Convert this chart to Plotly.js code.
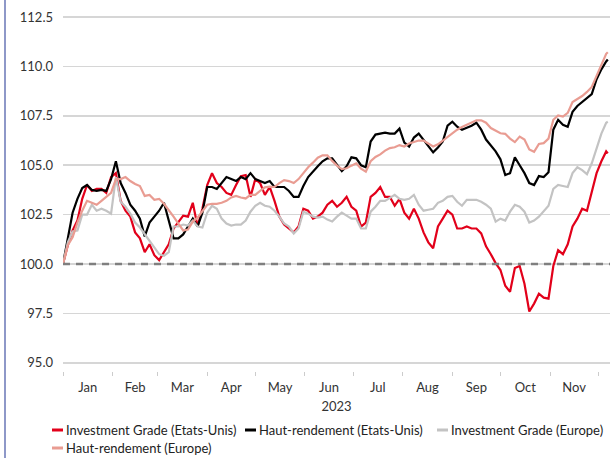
<!DOCTYPE html>
<html>
<head>
<meta charset="utf-8">
<script src="https://cdn.plot.ly/plotly-3.0.1.min.js"></script>
<style>
  html, body { margin: 0; padding: 0; background: #ffffff; }
  #wrap { position: relative; width: 610px; height: 458px; }
  #border { position: absolute; left: 4px; top: 0; width: 2px; height: 458px; background: #8e98c8; z-index: 2; }
  #chart { position: absolute; left: 0; top: 0; width: 610px; height: 458px; }
</style>
</head>
<body>
<div id="wrap"><div id="chart"></div><div id="border"></div></div>
<script>
const dates = [
 "2023-01-01","2023-01-04","2023-01-07","2023-01-10","2023-01-13","2023-01-16","2023-01-19","2023-01-22","2023-01-25","2023-01-28",
 "2023-01-31","2023-02-03","2023-02-06","2023-02-09","2023-02-12","2023-02-15","2023-02-18","2023-02-21","2023-02-24","2023-02-27",
 "2023-03-02","2023-03-05","2023-03-08","2023-03-11","2023-03-14","2023-03-17","2023-03-20","2023-03-23","2023-03-26","2023-03-29",
 "2023-04-01","2023-04-04","2023-04-07","2023-04-10","2023-04-13","2023-04-16","2023-04-19","2023-04-22","2023-04-25","2023-04-28",
 "2023-05-01","2023-05-04","2023-05-07","2023-05-10","2023-05-13","2023-05-16","2023-05-19","2023-05-22","2023-05-25","2023-05-28",
 "2023-05-31","2023-06-03","2023-06-06","2023-06-09","2023-06-12","2023-06-15","2023-06-18","2023-06-21","2023-06-24","2023-06-27",
 "2023-06-30","2023-07-03","2023-07-06","2023-07-09","2023-07-12","2023-07-15","2023-07-18","2023-07-21","2023-07-24","2023-07-27",
 "2023-07-30","2023-08-02","2023-08-05","2023-08-08","2023-08-11","2023-08-14","2023-08-17","2023-08-20","2023-08-23","2023-08-26",
 "2023-08-29","2023-09-01","2023-09-04","2023-09-07","2023-09-10","2023-09-13","2023-09-16","2023-09-19","2023-09-22","2023-09-25",
 "2023-09-28","2023-10-01","2023-10-04","2023-10-07","2023-10-10","2023-10-13","2023-10-16","2023-10-19","2023-10-22","2023-10-25",
 "2023-10-28","2023-10-31","2023-11-03","2023-11-06","2023-11-09","2023-11-12","2023-11-15","2023-11-18","2023-11-21","2023-11-24",
 "2023-11-27","2023-11-30","2023-12-03","2023-12-06","2023-12-07"
];

const igUS = [
 100.0,100.95,101.7,102.2,103.3,104.0,103.7,103.8,103.8,103.6,
 104.4,104.6,103.2,102.7,102.4,101.6,101.3,100.6,101.0,100.45,
 100.2,100.6,101.0,101.8,102.1,102.45,102.4,103.1,101.9,102.8,
 104.0,104.6,104.1,103.9,103.6,103.5,104.0,104.45,104.5,103.4,
 104.3,104.1,103.5,103.9,103.2,102.4,102.0,101.8,101.6,101.9,
 102.8,102.7,102.3,102.4,102.6,103.0,103.2,102.9,103.1,103.4,
 102.9,102.7,101.9,102.1,103.4,103.6,103.9,103.4,103.4,102.95,
 103.3,102.6,102.3,102.8,102.3,101.6,101.1,100.8,101.9,102.3,
 102.7,102.5,101.8,101.8,101.9,101.8,101.8,101.55,100.9,100.5,
 100.05,99.7,98.9,98.6,99.8,99.9,99.0,97.6,98.0,98.5,
 98.3,98.25,99.9,100.7,100.5,101.0,101.9,102.3,102.8,102.7,
 103.7,104.6,105.2,105.7,105.6
];

const hyUS = [
 100.0,101.3,102.6,103.3,103.85,104.0,103.75,103.7,103.75,103.7,
 104.3,105.2,104.1,103.6,103.0,102.7,102.3,101.4,102.1,102.4,
 102.7,103.1,102.2,101.3,101.3,101.5,101.9,102.3,101.9,102.6,
 103.9,103.9,103.8,104.1,104.4,104.3,104.2,104.4,104.3,104.6,
 104.3,104.2,104.1,104.2,103.9,103.9,103.9,103.7,103.4,103.4,
 103.95,104.4,104.7,104.95,105.2,105.35,105.35,105.05,104.7,104.95,
 105.4,105.35,105.0,104.9,106.2,106.55,106.6,106.65,106.6,106.6,
 106.85,106.15,105.95,106.4,106.6,106.3,105.95,105.65,105.9,106.2,
 107.0,107.2,106.95,106.8,106.9,107.0,107.15,106.8,106.3,106.0,
 105.7,105.3,104.5,104.6,105.4,105.0,104.6,104.1,104.0,104.45,
 104.4,104.65,106.8,107.3,107.05,106.95,107.7,108.0,108.2,108.4,
 108.6,109.35,109.85,110.25,110.35
];

const igEU = [
 100.0,101.1,101.65,101.7,102.5,102.5,103.0,102.7,102.8,102.7,
 102.55,104.4,103.15,102.9,102.55,102.1,101.85,101.5,101.2,100.8,
 100.5,100.42,100.6,101.9,101.9,102.0,101.95,102.2,101.9,101.85,
 102.6,102.95,102.8,102.3,102.05,101.95,102.0,102.0,102.2,102.65,
 102.95,103.1,102.95,102.9,102.7,102.4,102.05,101.9,101.55,101.8,
 102.65,102.55,102.4,102.35,102.4,102.25,102.15,102.4,102.6,102.45,
 102.3,102.3,101.8,101.8,102.65,102.9,103.2,103.2,103.35,103.5,
 103.3,103.25,103.3,103.5,103.0,102.7,102.75,102.8,103.1,103.2,
 103.4,103.45,103.15,102.95,103.25,103.25,103.25,103.15,103.0,102.8,
 102.15,102.3,102.2,102.65,103.0,102.9,102.65,102.1,102.2,102.4,
 102.65,102.95,103.8,104.0,103.95,103.9,104.6,104.9,104.75,104.55,
 105.1,105.9,106.6,107.15,107.2
];

const hyEU = [
 100.0,100.95,101.35,102.1,102.7,103.2,103.1,103.0,103.2,103.38,
 103.6,104.3,104.3,104.4,104.2,104.05,103.95,103.45,103.5,103.25,
 103.3,103.05,102.75,102.4,102.05,101.7,101.75,102.15,102.35,102.65,
 103.0,103.05,103.05,103.1,103.2,103.37,103.45,103.37,103.32,103.5,
 103.5,103.7,103.88,103.92,103.9,104.1,104.25,104.2,104.1,104.3,
 104.6,104.9,105.13,105.38,105.5,105.5,105.22,104.98,104.8,104.85,
 104.98,105.1,104.83,104.68,105.2,105.42,105.55,105.74,105.87,105.91,
 106.02,105.95,106.1,106.16,106.25,106.25,106.08,105.95,106.06,106.25,
 106.4,106.62,106.8,106.93,107.05,107.18,107.27,107.27,107.15,106.88,
 106.75,106.62,106.59,106.35,106.17,106.45,106.3,105.8,105.68,106.08,
 106.12,106.35,107.3,107.52,107.46,107.65,108.2,108.33,108.5,108.71,
 108.96,109.52,110.1,110.64,110.72
];

const seriesNames = [
 "Investment Grade (Etats-Unis)",
 "Haut-rendement (Etats-Unis)",
 "Investment Grade (Europe)",
 "Haut-rendement (Europe)"
];
const seriesValues = [igUS, hyUS, igEU, hyEU];
const seriesColors = ["#e2001a", "#000000", "#c3c3c3", "#e99c92"];
const baseline = 100;
const yearLabel = "2023";

const traces = seriesValues.map((vals, i) => ({
  type: "scatter",
  mode: "lines",
  x: dates,
  y: vals,
  name: seriesNames[i],
  line: { color: seriesColors[i], width: 2.2 },
  showlegend: false,
  hoverinfo: "x+y+name"
}));

// manual legend (positions in paper coords)
const W = 547, H = 371, L = 63;
function px2x(p) { return (p - L) / W; }
function py2y(p) { return (H - p) / H; }
const legendItems = [
  { sx: 52, tx: 65, y: 430 },
  { sx: 245, tx: 258, y: 430 },
  { sx: 437, tx: 450, y: 430 },
  { sx: 52, tx: 65, y: 448 }
];
const shapes = [{
  type: "line", xref: "paper", yref: "y",
  x0: 0, x1: 1, y0: baseline, y1: baseline,
  line: { color: "#7f7f7f", width: 2.5, dash: "7px,6px" }
}];
const annotations = [];
legendItems.forEach((it, i) => {
  shapes.push({
    type: "line", xref: "paper", yref: "paper",
    x0: px2x(it.sx), x1: px2x(it.sx + 11), y0: py2y(it.y), y1: py2y(it.y),
    line: { color: seriesColors[i], width: 3 }
  });
  annotations.push({
    xref: "paper", yref: "paper", x: px2x(it.tx), y: py2y(it.y),
    xanchor: "left", yanchor: "middle", showarrow: false,
    text: seriesNames[i], borderpad: 0,
    font: { family: "Lato, sans-serif", size: 13, color: "#222" }
  });
});

const layout = {
  width: 610, height: 458,
  margin: { l: 63, r: 0, t: 0, b: 87 },
  paper_bgcolor: "rgba(0,0,0,0)",
  plot_bgcolor: "#ffffff",
  font: { family: "Lato, sans-serif", size: 13, color: "#333" },
  xaxis: {
    type: "date",
    range: ["2023-01-01", "2023-12-08 09:00"],
    tick0: "2023-01-01", dtick: "M1",
    tickformat: "%b", ticklabelmode: "period",
    ticks: "outside", ticklen: 4, tickcolor: "#cccccc", tickwidth: 1,
    showgrid: false, zeroline: false, showline: false,
    tickfont: { family: "Lato, sans-serif", size: 13, color: "#333" },
    title: { text: yearLabel, standoff: 8, font: { family: "Lato, sans-serif", size: 13, color: "#333" } }
  },
  yaxis: {
    range: [94.59, 113.36],
    tick0: 95, dtick: 2.5, tickformat: ".1f",
    showgrid: true, gridcolor: "#d6d6d6", gridwidth: 1.5,
    zeroline: false, showline: false, ticks: "",
    ticklabelstandoff: 9,
    tickfont: { family: "Lato, sans-serif", size: 13, color: "#333" }
  },
  shapes: shapes,
  annotations: annotations,
  showlegend: false
};

Plotly.newPlot("chart", traces, layout, { displayModeBar: false, staticPlot: true });
</script>
</body>
</html>
